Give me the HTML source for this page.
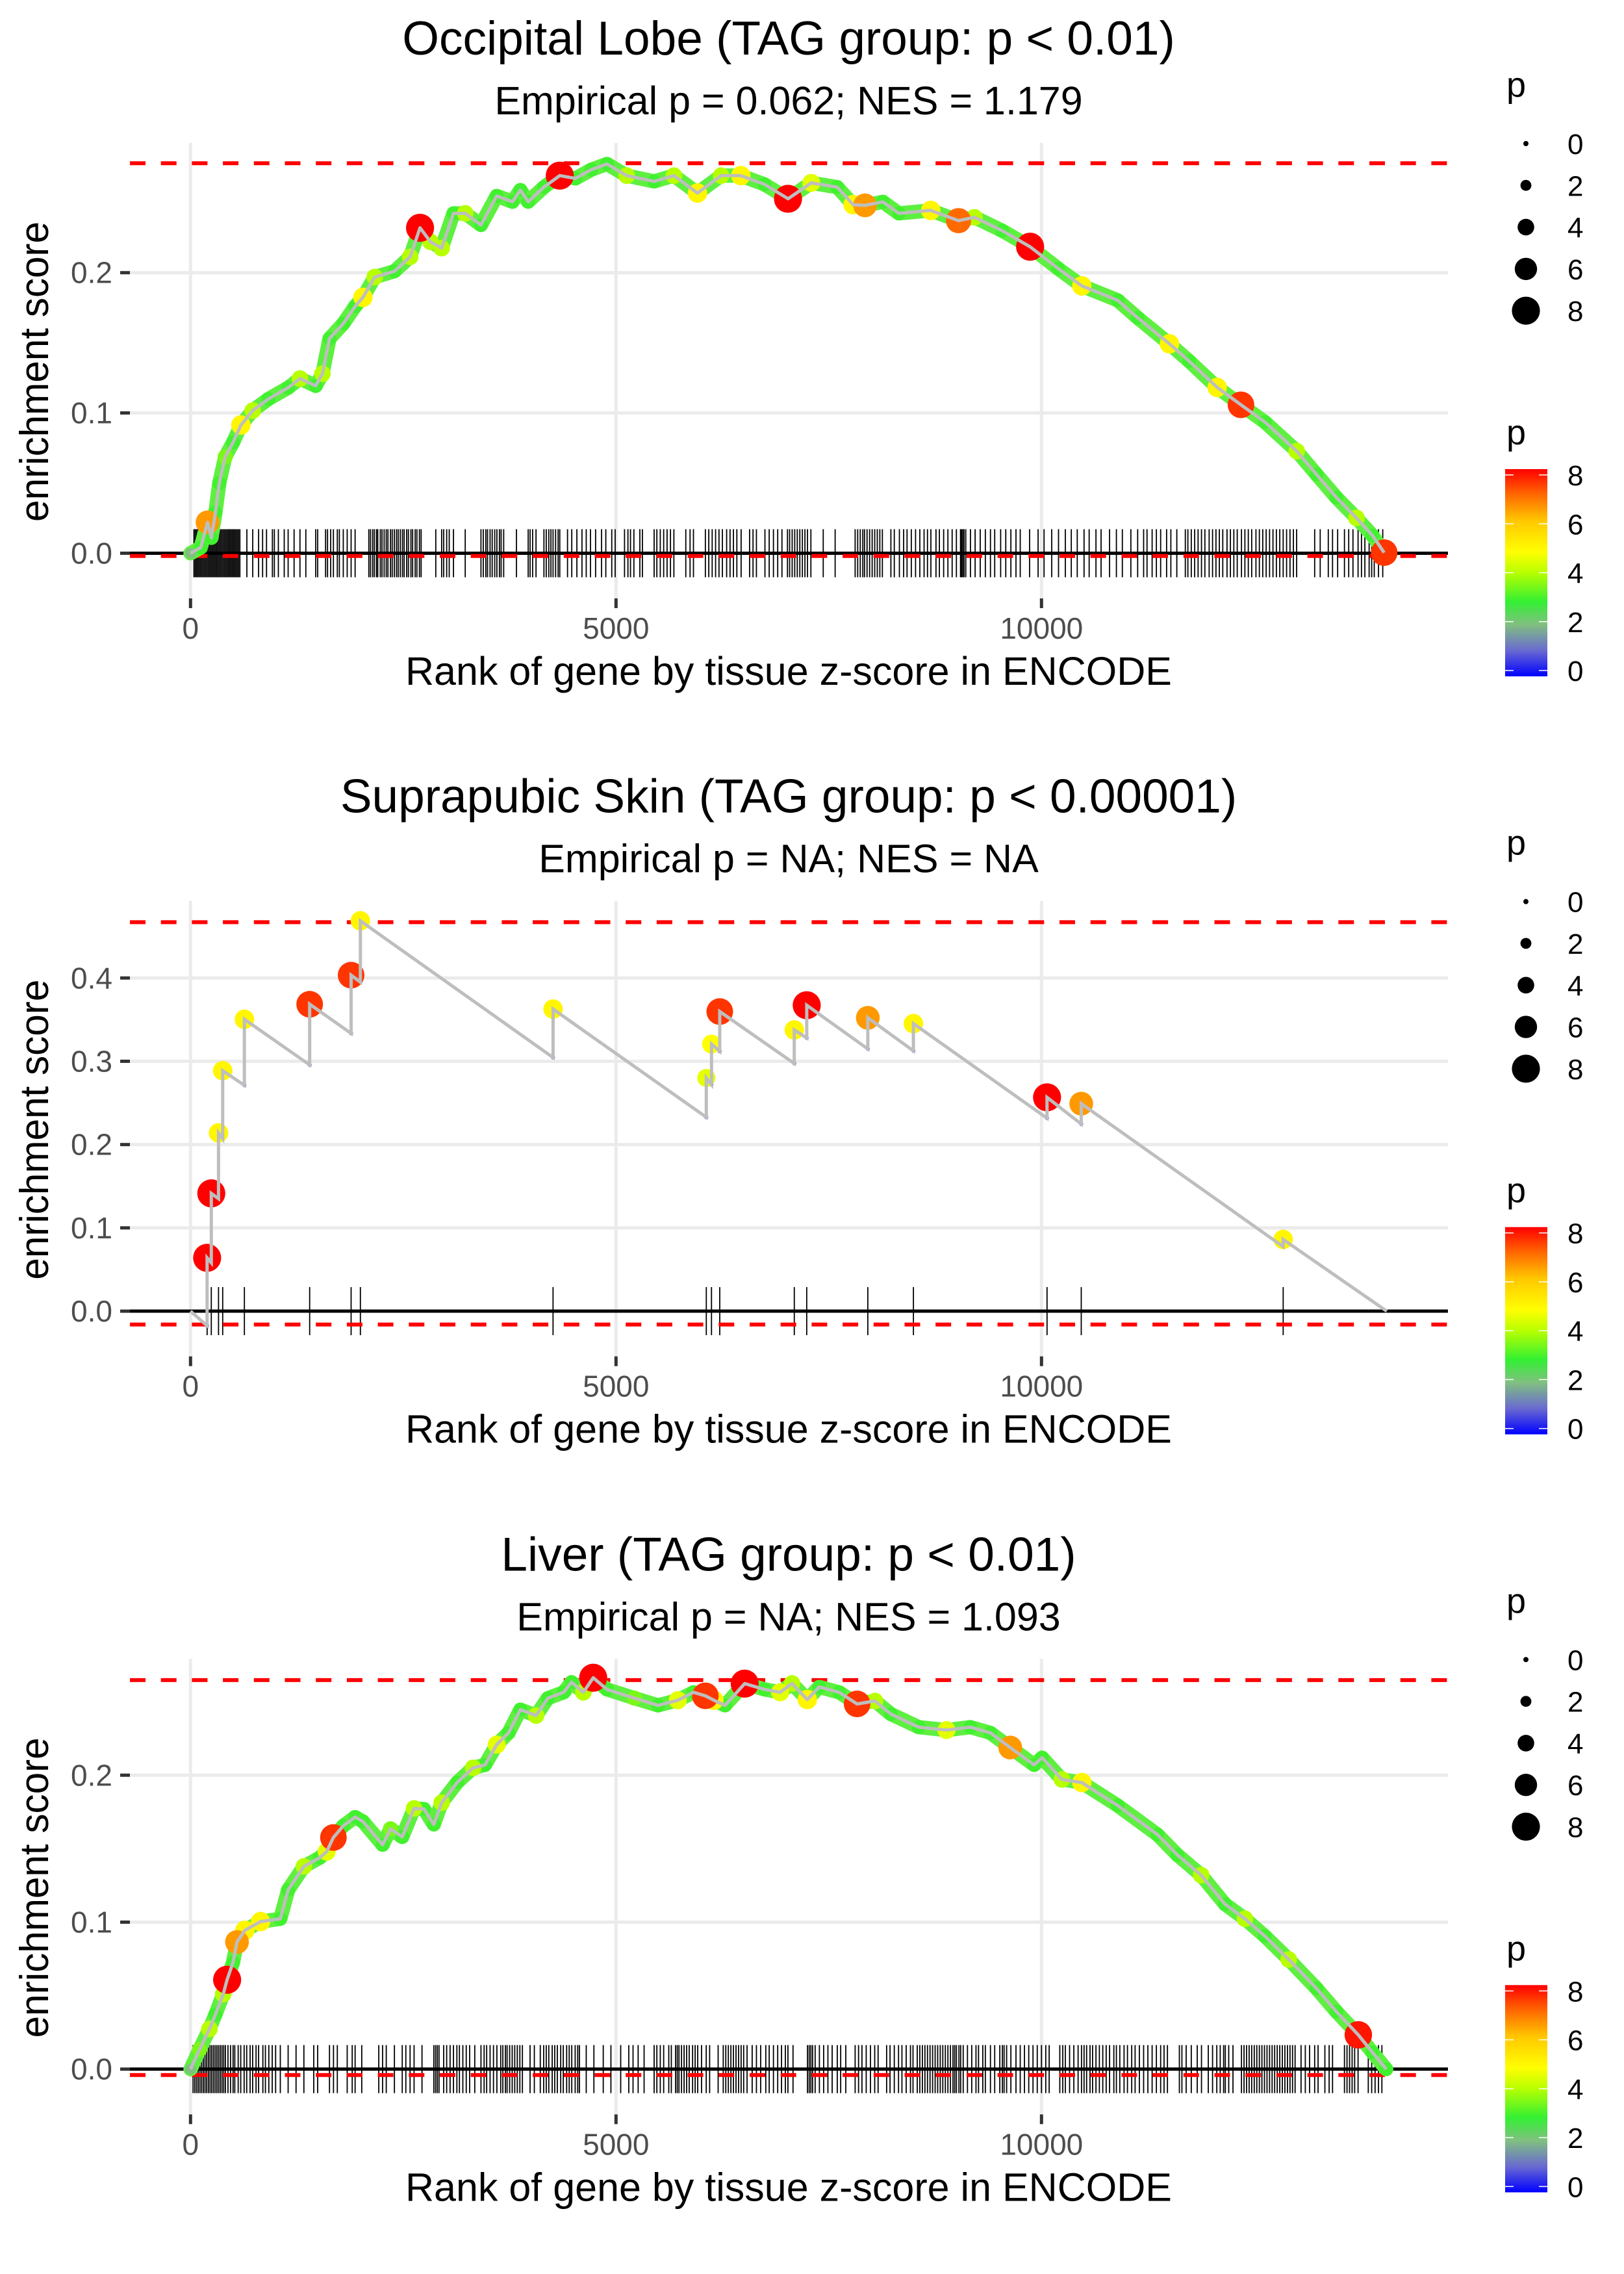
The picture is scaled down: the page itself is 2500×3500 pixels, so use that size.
<!DOCTYPE html>
<html><head><meta charset="utf-8"><style>
html,body{margin:0;padding:0;background:#fff;}
svg{display:block;font-family:"Liberation Sans",Arial,sans-serif;}
</style></head><body>
<svg id="chart" xmlns="http://www.w3.org/2000/svg" width="2500" height="3500" viewBox="0 0 2500 3500">
<defs>
<linearGradient id="cbar" x1="0" y1="1" x2="0" y2="0">
<stop offset="0" stop-color="#0000ff"/><stop offset="0.125" stop-color="#6a6ad0"/><stop offset="0.25" stop-color="#80c080"/>
<stop offset="0.36" stop-color="#33f033"/><stop offset="0.5" stop-color="#b8ff00"/><stop offset="0.6" stop-color="#ffff00"/>
<stop offset="0.75" stop-color="#ffc800"/><stop offset="0.875" stop-color="#ff6a00"/><stop offset="1" stop-color="#ff0000"/>
</linearGradient>
</defs>
<rect x="0" y="0" width="2500" height="3500" fill="#fff"/>
</svg>
<script>
// ---------- data ----------
const titles = ["Occipital Lobe (TAG group: p < 0.01)", "Suprapubic Skin (TAG group: p < 0.00001)", "Liver (TAG group: p < 0.01)"];
const subtitles = ["Empirical p = 0.062; NES = 1.179", "Empirical p = NA; NES = NA", "Empirical p = NA; NES = 1.093"];
const xTicks = [0, 5000, 10000];
const yTicks1 = [0, 0.1, 0.2];
const yTicks2 = [0, 0.1, 0.2, 0.3, 0.4];
const yTicks3 = [0, 0.1, 0.2];
const esMax = [0.278, 0.467, 0.2647];
const esMin = [-0.002, -0.016, -0.004];
const legendSizes = [0, 2, 4, 6, 8];

const p1Rank = [0,120,200,245,292,338,407,500,592,731,916,1147,1286,1471,1550,1633,1795,1934,2026,2165,2396,2581,2697,2820,2951,3090,3228,3413,3598,3783,3876,3968,4153,4339,4524,4709,4894,5125,5448,5680,5957,6235,6466,6744,7021,7295,7599,7786,7926,8136,8324,8698,9025,9212,9539,9866,10194,10474,10895,11129,11503,11736,12064,12344,12625,12999,13232,13466,13700,13887,14027];
const p1ES = [0,0.004,0.022,0.011,0.029,0.050,0.0686,0.079,0.0914,0.1017,0.110,0.118,0.1245,0.1193,0.128,0.153,0.1637,0.176,0.1824,0.1969,0.201,0.2113,0.232,0.222,0.2175,0.2423,0.2423,0.234,0.2547,0.2506,0.2589,0.2506,0.261,0.2692,0.2672,0.2734,0.2775,0.2692,0.2651,0.2692,0.2568,0.2692,0.2692,0.263,0.2527,0.264,0.261,0.2485,0.248,0.2505,0.2423,0.2444,0.2371,0.2395,0.2299,0.2185,0.203,0.1906,0.1803,0.1679,0.1493,0.1369,0.1182,0.1058,0.0935,0.0728,0.0562,0.0397,0.0252,0.0128,0.0004];
const p1P = [2,3,6.5,3,3,3,3.5,3,5,4,3,3,4,3,4,3,3,3,5,4,3,4,8,4,4,3,4,3,3,3,3,3,3,8,3,3,3,4,3,4,5,4,5,3,8,4.5,3,5,6.5,3,3,5,7,4,3,8,3,5,3,3,5,3,5,7.5,3,4,3,3,4,3,7.5];
const p1Rug = [40,55,70,85,100,115,130,145,160,175,190,205,220,235,250,265,280,295,310,325,340,355,370,385,400,415,430,445,460,475,490,505,520,535,550,565,580,662,731,800,847,893,962,985,1032,1101,1147,1217,1286,1355,1471,1494,1587,1610,1647,1679,1725,1749,1795,1841,1887,1934,2095,2115,2140,2160,2185,2200,2230,2250,2275,2300,2320,2350,2370,2395,2420,2440,2465,2490,2510,2540,2560,2590,2610,2640,2660,2690,2710,2882,2951,2975,3010,3040,3090,3228,3413,3440,3470,3490,3520,3545,3575,3600,3630,3650,3680,3830,3968,3990,4020,4060,4153,4180,4210,4235,4260,4290,4320,4339,4430,4480,4540,4600,4650,4700,4760,4830,4880,4950,4990,5100,5140,5170,5210,5280,5310,5448,5480,5520,5560,5600,5640,5680,5820,5870,5910,6050,6090,6130,6170,6210,6250,6300,6340,6380,6420,6470,6570,6610,6650,6750,6800,6850,6900,6950,7015,7040,7070,7100,7130,7160,7190,7220,7250,7290,7435,7575,7810,7840,7870,7900,7920,7950,7980,8010,8040,8070,8100,8130,8230,8270,8330,8380,8420,8470,8520,8570,8620,8660,8700,8760,8800,8850,8900,8950,9000,9048,9060,9075,9090,9110,9165,9220,9280,9340,9400,9450,9520,9580,9640,9700,9750,9860,9960,10030,10120,10200,10280,10350,10420,10500,10560,10640,10700,10800,10880,10950,11050,11130,11200,11240,11300,11350,11400,11470,11520,11590,11690,11720,11760,11800,11840,11880,11920,11970,12010,12050,12090,12130,12180,12220,12260,12300,12350,12390,12430,12470,12520,12560,12600,12640,12680,12720,12760,12800,12840,12880,12920,12960,12998,13210,13275,13370,13420,13480,13560,13610,13660,13720,13760,13800,13850,13880,13910,13960,14010];

const p2HitRank = [195,244,329,378,633,1400,1887,1996,4260,6061,6122,6219,7095,7241,7959,8495,10065,10467,12840];
const p2HitBase = [-0.0175,0.058,0.135,0.207,0.2712,0.2957,0.3335,0.395,0.3045,0.2328,0.272,0.312,0.2974,0.328,0.3149,0.3125,0.2317,0.2247,0.0774];
const p2HitES = [0.064,0.1414,0.214,0.2887,0.3504,0.3685,0.4034,0.4686,0.3627,0.28,0.3207,0.3597,0.3376,0.3673,0.3522,0.3452,0.2567,0.2491,0.0861];
const p2HitP = [8,8,5,5,5,7.5,7.5,5,5,4.5,4.8,7.5,5,8,6.5,5,8,6.5,5];
const p2EndRank = 14057;

const p3Rank = [0,107,222,292,384,430,500,546,638,823,1055,1147,1332,1517,1600,1679,1795,1934,2026,2257,2350,2488,2627,2743,2859,2951,3136,3321,3460,3598,3737,3876,4061,4200,4385,4477,4616,4732,4894,5217,5495,5726,5911,6050,6150,6281,6512,6744,6929,7068,7248,7388,7622,7833,8043,8230,8557,8884,9165,9399,9633,9913,10007,10240,10474,10895,11362,11596,11876,12157,12391,12625,12905,13232,13466,13723,13887,14050];
const p3ES = [0,0.0134,0.0273,0.0371,0.051,0.0608,0.0727,0.0865,0.0944,0.1004,0.1023,0.122,0.1379,0.1438,0.148,0.1576,0.1655,0.1715,0.1685,0.1527,0.1635,0.158,0.1774,0.177,0.1665,0.1813,0.1952,0.205,0.207,0.2208,0.2288,0.2446,0.2406,0.2524,0.2564,0.2633,0.2564,0.2663,0.2584,0.2524,0.2475,0.251,0.2564,0.254,0.251,0.2475,0.2623,0.2584,0.2564,0.2624,0.2515,0.26,0.2564,0.2485,0.2505,0.2416,0.2327,0.2307,0.2327,0.2288,0.2188,0.207,0.2119,0.1971,0.195,0.1794,0.1596,0.1458,0.132,0.1122,0.1023,0.0905,0.0746,0.0549,0.0391,0.0233,0.0115,0];
const p3P = [2,3.5,4,3,4,8,3,6.5,5,5,3,3,4,3,4.5,7.5,3,3,3,3,3.5,3,4,3,3,4,3,4,3,4.5,3,3,4,3,3,3,4,8,3,3.5,3,4.5,3,7.5,5,3,8,3,4.5,4,5,3,3,7.5,4,3,3,4.5,3,3,6.5,3,3,4,5,3,3,3,4,3,4,3,4,3,3,7.8,3,3];
const p3Rug = [30,50,70,90,110,130,150,170,190,210,230,250,270,290,310,330,350,370,390,410,440,470,500,520,560,590,630,660,700,730,770,800,850,880,920,960,1000,1055,1147,1240,1332,1448,1494,1633,1680,1725,1841,1900,1934,2012,2212,2257,2300,2396,2488,2530,2580,2627,2720,2859,2880,2900,2920,2975,3010,3050,3090,3130,3160,3200,3240,3280,3340,3413,3450,3480,3520,3560,3600,3645,3670,3700,3720,3750,3780,3810,3840,3870,3900,3990,4040,4110,4150,4180,4210,4250,4280,4310,4350,4380,4420,4450,4480,4520,4550,4570,4650,4740,4850,4940,5055,5150,5200,5260,5330,5448,5480,5520,5560,5620,5650,5700,5720,5740,5770,5800,5830,5860,5900,5930,5960,6005,6060,6100,6200,6260,6290,6320,6350,6380,6410,6440,6470,6500,6540,6600,6650,6700,6760,6800,6850,6900,6945,6990,7020,7080,7250,7270,7290,7310,7340,7390,7440,7490,7540,7600,7640,7700,7810,7850,7890,7940,7990,8040,8080,8180,8220,8270,8320,8360,8410,8460,8490,8540,8570,8600,8630,8660,8690,8720,8750,8780,8810,8840,8870,8900,8930,8960,8980,9000,9030,9050,9080,9130,9180,9230,9260,9310,9340,9400,9450,9510,9540,9560,9590,9640,9700,9750,9800,9850,9900,9950,10000,10050,10090,10215,10250,10280,10330,10380,10430,10470,10500,10530,10570,10600,10640,10680,10720,10760,10800,10850,10880,10920,10970,11010,11060,11100,11150,11200,11250,11300,11350,11400,11440,11480,11620,11650,11700,11760,11830,11880,11960,12010,12060,12100,12140,12160,12200,12250,12350,12380,12410,12440,12470,12500,12530,12560,12590,12620,12650,12680,12710,12740,12770,12800,12830,12860,12890,12920,12950,12980,13050,13100,13150,13210,13250,13330,13380,13420,13560,13590,13620,13650,13680,13720,13840,13880,13920,13960,14000];

// ---------- layout / scales ----------
const NS = "http://www.w3.org/2000/svg";
const svg = document.getElementById("chart");
const PANEL_H = 3500 / 3;
const PL = 200, PR = 2229, PT = 220, PB = 921;
const X_ORIGIN = 293.3, X_PER_RANK = 0.131;
const yDomains = [[-0.0322, 0.2925], [-0.0543, 0.4925], [-0.0308, 0.2791]];
function xScale(r) { return X_ORIGIN + r * X_PER_RANK; }
function yScaleFor(i) {
  const lo = yDomains[i][0], hi = yDomains[i][1], off = i * PANEL_H;
  return function (v) { return off + PB - (v - lo) / (hi - lo) * (PB - PT); };
}
const cStops = [[0,[0,0,255]],[1,[106,106,208]],[2,[128,192,128]],[2.9,[51,240,51]],[4,[184,255,0]],[4.8,[255,255,0]],[6,[255,200,0]],[7,[255,106,0]],[8,[255,0,0]]];
function pColor(p) {
  for (let k = 1; k < cStops.length; k++) {
    if (p <= cStops[k][0]) {
      const a = cStops[k-1], b = cStops[k], t = (p - a[0]) / (b[0] - a[0]);
      const c = a[1].map((v, j) => Math.round(v + (b[1][j] - v) * t));
      return "rgb(" + c.join(",") + ")";
    }
  }
  return "rgb(255,0,0)";
}
function pRadius(p) { return 4 + 2.2 * p; }
function el(tag, attrs, parent) {
  const e = document.createElementNS(NS, tag);
  for (const k in attrs) e.setAttribute(k, attrs[k]);
  parent.appendChild(e);
  return e;
}
function txt(parent, s, attrs) { const t = el("text", attrs, parent); t.textContent = s; return t; }

const yTickSets = [yTicks1, yTicks2, yTicks3];

function drawFrame(i) {
  const off = i * PANEL_H;
  const y = yScaleFor(i);
  const g = el("g", {}, svg);
  
  

  const title = txt(g, titles[i], {x: 1214, y: off + 84, "text-anchor": "middle", "font-size": 73, fill: "#000"});
  
  
  const sub = txt(g, subtitles[i], {x: 1214, y: off + 176, "text-anchor": "middle", "font-size": 61, fill: "#000"});
  
  

  const grid = el("g", {}, g);
  
  
  yTickSets[i].forEach(v => {
    const ln = el("line", {x1: PL, x2: PR, y1: y(v), y2: y(v), stroke: "#ebebeb", "stroke-width": 5}, grid);
    
    
  });
  xTicks.forEach(v => {
    const ln = el("line", {x1: xScale(v), x2: xScale(v), y1: off + PT, y2: off + PB, stroke: "#ebebeb", "stroke-width": 5}, grid);
    
    
  });

  const axes = el("g", {}, g);
  
  
  yTickSets[i].forEach(v => {
    const tk = el("line", {x1: 185, x2: PL, y1: y(v), y2: y(v), stroke: "#333", "stroke-width": 5}, axes);
    
    
    const lb = txt(axes, v.toFixed(1), {x: 173, y: y(v) + 16, "text-anchor": "end", "font-size": 46, fill: "#4d4d4d"});
    
    
  });
  xTicks.forEach(v => {
    const tk = el("line", {x1: xScale(v), x2: xScale(v), y1: off + PB, y2: off + PB + 15, stroke: "#333", "stroke-width": 5}, axes);
    
    
    const lb = txt(axes, String(v), {x: xScale(v), y: off + 983, "text-anchor": "middle", "font-size": 46, fill: "#4d4d4d"});
    
    
  });
  const xt = txt(axes, "Rank of gene by tissue z-score in ENCODE", {x: 1214, y: off + 1054, "text-anchor": "middle", "font-size": 61, textLength: 1180, lengthAdjust: "spacingAndGlyphs", fill: "#000"});
  
  
  const yt = txt(axes, "enrichment score", {x: 0, y: 0, "text-anchor": "middle", "font-size": 62, textLength: 462, lengthAdjust: "spacingAndGlyphs", fill: "#000", transform: "translate(74," + (off + 572) + ") rotate(-90)"});
  
  
  return g;
}

function drawRefLines(g, i, rug) {
  const y = yScaleFor(i);
  const rg = el("g", {}, g);
  
  
  rug.forEach(r => {
    const ln = el("line", {x1: xScale(r), x2: xScale(r), y1: y(0) - 37, y2: y(0) + 37, stroke: "#000", "stroke-width": 1.8}, rg);
    
    
  });
  const z = el("line", {x1: PL, x2: PR, y1: y(0), y2: y(0), stroke: "#000", "stroke-width": 5}, g);
  
  
  const mx = el("line", {x1: PL, x2: PR, y1: y(esMax[i]), y2: y(esMax[i]), stroke: "#ff0000", "stroke-width": 6, "stroke-dasharray": "24 23.7"}, g);
  
  
  const mn = el("line", {x1: PL, x2: PR, y1: y(esMin[i]), y2: y(esMin[i]), stroke: "#ff0000", "stroke-width": 6, "stroke-dasharray": "24 23.7"}, g);
  
  
}

function drawCurvePanel(i, ranks, es, ps, rug) {
  const g = drawFrame(i);
  const y = yScaleFor(i);
  drawRefLines(g, i, rug);
  const d = ranks.map((r, k) => (k ? "L" : "M") + xScale(r).toFixed(1) + "," + y(es[k]).toFixed(1)).join(" ");
  const band = el("path", {d: d, fill: "none", stroke: "#5ef040", "stroke-width": 22, "stroke-linejoin": "round", "stroke-linecap": "round"}, g);
  
  
  const pts = el("g", {}, g);
  
  
  const order = ranks.map((r, k) => k).sort((a, b) => ps[a] - ps[b]);
  order.forEach(k => {
    const c = el("circle", {cx: xScale(ranks[k]), cy: y(es[k]), r: pRadius(ps[k]), fill: pColor(ps[k])}, pts);
    
    
  });
  const line = el("path", {d: d, fill: "none", stroke: "#bebebe", "stroke-width": 5, "stroke-linejoin": "round"}, g);
  
  
}

function drawStepPanel(i) {
  const g = drawFrame(i);
  const y = yScaleFor(i);
  drawRefLines(g, i, p2HitRank);
  let d = "M" + xScale(0) + "," + y(0);
  p2HitRank.forEach((r, k) => {
    d += " L" + xScale(r).toFixed(1) + "," + y(p2HitBase[k]).toFixed(1);
    d += " L" + xScale(r).toFixed(1) + "," + y(p2HitES[k]).toFixed(1);
  });
  d += " L" + xScale(p2EndRank).toFixed(1) + "," + y(0).toFixed(1);
  const pts = el("g", {}, g);
  
  
  p2HitRank.forEach((r, k) => {
    const b = el("circle", {cx: xScale(r), cy: y(p2HitBase[k]), r: 3, fill: "#2222ff"}, pts);
    
    
  });
  p2HitRank.forEach((r, k) => {
    const c = el("circle", {cx: xScale(r), cy: y(p2HitES[k]), r: pRadius(p2HitP[k]), fill: pColor(p2HitP[k])}, pts);
    
    
  });
  const line = el("path", {d: d, fill: "none", stroke: "#bebebe", "stroke-width": 5, "stroke-linejoin": "miter"}, g);
  
  
}

function drawLegend(i) {
  const off = i * PANEL_H;
  const g = el("g", {}, svg);
  
  
  const st = txt(g, "p", {x: 2319, y: off + 149, "font-size": 54, fill: "#000"});
  
  
  legendSizes.forEach((s, k) => {
    const cy = off + 221 + k * 64.3;
    const c = el("circle", {cx: 2349, cy: cy, r: pRadius(s), fill: "#000"}, g);
    
    
    const l = txt(g, String(s), {x: 2413, y: cy + 16, "font-size": 44, fill: "#000"});
    
    
  });
  const ct = txt(g, "p", {x: 2319, y: off + 684, "font-size": 54, fill: "#000"});
  
  
  const bar = el("rect", {x: 2317, y: off + 722, width: 65, height: 319, fill: "url(#cbar)"}, g);
  
  
  legendSizes.forEach(s => {
    const ty = off + 1032 - s / 8 * 301;
    const a = el("line", {x1: 2317, x2: 2330, y1: ty, y2: ty, stroke: "#fff", "stroke-width": 1.5}, g);
    
    
    const b = el("line", {x1: 2369, x2: 2382, y1: ty, y2: ty, stroke: "#fff", "stroke-width": 1.5}, g);
    
    
    const l = txt(g, String(s), {x: 2413, y: ty + 16, "font-size": 44, fill: "#000"});
    
    
  });
}

drawCurvePanel(0, p1Rank, p1ES, p1P, p1Rug);
drawStepPanel(1);
drawCurvePanel(2, p3Rank, p3ES, p3P, p3Rug);
drawLegend(0); drawLegend(1); drawLegend(2);
</script>
</body></html>
